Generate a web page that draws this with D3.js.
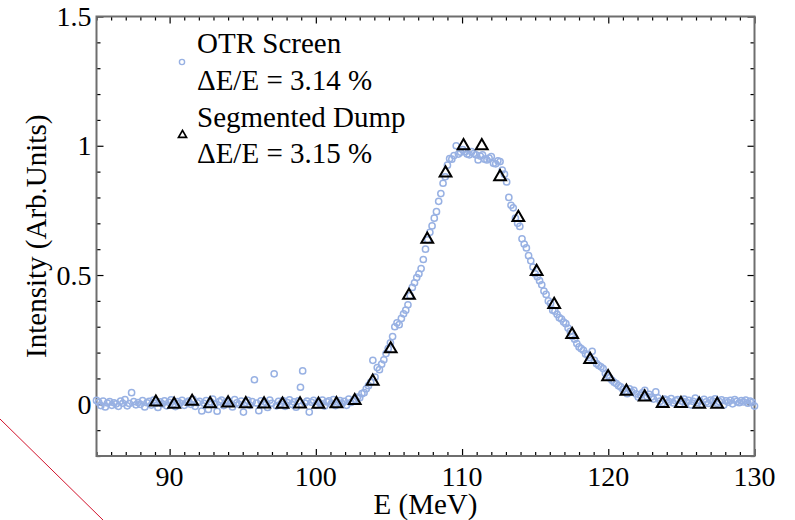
<!DOCTYPE html>
<html>
<head>
<meta charset="utf-8">
<script src="https://cdn.jsdelivr.net/npm/d3@7"></script>
<style>
  html, body { margin: 0; padding: 0; background: #fff; }
  svg { display: block; }
  svg text { font-family: "Liberation Serif", "Times New Roman", serif; fill: #000; }
</style>
</head>
<body>
<svg id="chart" width="795" height="520" font-family="Liberation Serif, serif"></svg>
<script>
// ---------- data ----------
const otrEnergy = [
  85, 85.15, 85.3, 85.45, 85.6, 85.75, 85.9, 86.05, 86.2, 86.35, 86.5, 86.65, 86.8, 86.95, 87.1, 87.25, 87.4, 87.55, 87.7, 87.85,
  88, 88.15, 88.3, 88.45, 88.6, 88.75, 88.9, 89.05, 89.2, 89.35, 89.5, 89.65, 89.8, 89.95, 90.1, 90.25, 90.4, 90.55, 90.7, 90.85,
  91, 91.15, 91.3, 91.45, 91.6, 91.75, 91.9, 92.05, 92.2, 92.35, 92.5, 92.65, 92.8, 92.95, 93.1, 93.25, 93.4, 93.55, 93.7, 93.85,
  94, 94.15, 94.3, 94.45, 94.6, 94.75, 94.9, 95.05, 95.2, 95.35, 95.5, 95.65, 95.8, 95.95, 96.1, 96.25, 96.4, 96.55, 96.7, 96.85,
  97, 97.15, 97.3, 97.45, 97.6, 97.75, 97.9, 98.05, 98.2, 98.35, 98.5, 98.65, 98.8, 98.95, 99.1, 99.25, 99.4, 99.55, 99.7, 99.85,
  100, 100.15, 100.3, 100.45, 100.6, 100.75, 100.9, 101.05, 101.2, 101.35, 101.5, 101.65, 101.8, 101.95, 102.1, 102.25, 102.4, 102.55, 102.7, 102.85,
  103, 103.15, 103.3, 103.45, 103.6, 103.75, 103.9, 104.05, 104.2, 104.35, 104.5, 104.65, 104.8, 104.95, 105.1, 105.25, 105.4, 105.55, 105.7, 105.85,
  106, 106.15, 106.3, 106.45, 106.6, 106.75, 106.9, 107.05, 107.2, 107.35, 107.5, 107.65, 107.8, 107.95, 108.1, 108.25, 108.4, 108.55, 108.7, 108.85,
  109, 109.15, 109.3, 109.45, 109.6, 109.75, 109.9, 110.05, 110.2, 110.35, 110.5, 110.65, 110.8, 110.95, 111.1, 111.25, 111.4, 111.55, 111.7, 111.85,
  112, 112.15, 112.3, 112.45, 112.6, 112.75, 112.9, 113.05, 113.2, 113.35, 113.5, 113.65, 113.8, 113.95, 114.1, 114.25, 114.4, 114.55, 114.7, 114.85,
  115, 115.15, 115.3, 115.45, 115.6, 115.75, 115.9, 116.05, 116.2, 116.35, 116.5, 116.65, 116.8, 116.95, 117.1, 117.25, 117.4, 117.55, 117.7, 117.85,
  118, 118.15, 118.3, 118.45, 118.6, 118.75, 118.9, 119.05, 119.2, 119.35, 119.5, 119.65, 119.8, 119.95, 120.1, 120.25, 120.4, 120.55, 120.7, 120.85,
  121, 121.15, 121.3, 121.45, 121.6, 121.75, 121.9, 122.05, 122.2, 122.35, 122.5, 122.65, 122.8, 122.95, 123.1, 123.25, 123.4, 123.55, 123.7, 123.85,
  124, 124.15, 124.3, 124.45, 124.6, 124.75, 124.9, 125.05, 125.2, 125.35, 125.5, 125.65, 125.8, 125.95, 126.1, 126.25, 126.4, 126.55, 126.7, 126.85,
  127, 127.15, 127.3, 127.45, 127.6, 127.75, 127.9, 128.05, 128.2, 128.35, 128.5, 128.65, 128.8, 128.95, 129.1, 129.25, 129.4, 129.55, 129.7, 129.85,
  130
];
const otrIntensity = [
  0.015, 0.008, -0.005, 0.012, -0.010, 0.005, 0.010, -0.004, 0.006, 0.002,
  -0.008, 0.012, 0.004, 0.018, -0.006, 0.003, 0.045, 0.010, -0.002, 0.007,
  0.000, 0.014, -0.010, 0.006, 0.011, -0.003, 0.016, 0.004, -0.012, 0.009,
  0.002, 0.013, -0.006, 0.008, 0.017, 0.001, -0.009, 0.010, 0.005, 0.015,
  -0.004, 0.007, 0.012, 0.000, 0.019, -0.008, 0.006, 0.011, -0.026, 0.004,
  0.014, -0.020, 0.009, 0.020, 0.002, -0.027, 0.010, 0.016, -0.005, 0.008,
  0.013, 0.003, -0.010, 0.018, 0.006, 0.000, 0.012, -0.030, 0.007, 0.015,
  -0.004, 0.010, 0.095, 0.005, -0.025, 0.013, 0.001, 0.008, -0.012, 0.016,
  0.004, 0.118, -0.006, 0.011, 0.002, 0.014, -0.008, 0.007, 0.017, 0.000,
  0.009, -0.011, 0.013, 0.066, 0.129, 0.005, 0.012, -0.030, 0.008, 0.015,
  -0.003, 0.010, 0.004, 0.016, -0.007, 0.009, 0.013, 0.002, 0.018, -0.005,
  0.008, 0.014, 0.003, 0.011, -0.004, 0.020, 0.007, 0.012, 0.018, 0.028,
  0.025, 0.041, 0.045, 0.060, 0.072, 0.085, 0.170, 0.105, 0.142, 0.134,
  0.155, 0.172, 0.196, 0.215, 0.238, 0.262, 0.300, 0.315, 0.308, 0.332,
  0.350, 0.364, 0.385, 0.420, 0.452, 0.470, 0.490, 0.505, 0.525, 0.560,
  0.600, 0.636, 0.665, 0.690, 0.720, 0.745, 0.785, 0.815, 0.855, 0.880,
  0.925, 0.950, 0.948, 0.962, 1.000, 0.968, 0.975, 0.985, 0.977, 0.968,
  0.965, 0.977, 0.970, 0.965, 0.945, 0.960, 0.965, 0.948, 0.945, 0.952,
  0.958, 0.932, 0.930, 0.942, 0.939, 0.906, 0.890, 0.860, 0.800, 0.770,
  0.760, 0.720, 0.700, 0.688, 0.640, 0.620, 0.605, 0.575, 0.555, 0.531,
  0.505, 0.493, 0.478, 0.462, 0.438, 0.425, 0.400, 0.390, 0.364, 0.360,
  0.348, 0.335, 0.330, 0.318, 0.312, 0.295, 0.282, 0.262, 0.252, 0.235,
  0.222, 0.215, 0.209, 0.195, 0.190, 0.180, 0.205, 0.170, 0.157, 0.150,
  0.145, 0.138, 0.120, 0.112, 0.102, 0.093, 0.085, 0.080, 0.072, 0.067,
  0.058, 0.050, 0.041, 0.060, 0.048, 0.054, 0.040, 0.028, 0.035, 0.045,
  0.054, 0.030, 0.038, 0.028, 0.020, 0.048, 0.025, 0.012, 0.004, 0.020,
  0.016, 0.010, 0.022, 0.005, 0.014, 0.018, 0.002, 0.012, 0.020, 0.008,
  0.015, -0.002, 0.011, 0.024, 0.006, 0.013, 0.000, 0.019, 0.009, 0.003,
  0.016, 0.012, 0.021, 0.004, 0.010, 0.017, -0.003, 0.013, 0.008, 0.015,
  0.002, 0.018, 0.011, 0.006, 0.014, 0.009, 0.016, 0.004, 0.012, 0.008,
  -0.007
];
const dumpEnergy = [
  89.06, 90.31, 91.54, 92.77, 94.0, 95.21, 96.46, 97.72, 98.92, 100.18, 101.41,
  102.66, 103.89, 105.12, 106.37, 107.62, 108.87, 110.1, 111.35, 112.6, 113.85,
  115.1, 116.3, 117.53, 118.76, 119.99, 121.24, 122.49, 123.72, 124.97, 126.22, 127.45
];
const dumpIntensity = [
  0.008, 0.0, 0.011, 0.002, 0.005, 0.002, 0.001, 0.0, 0.001, 0.0, 0.002,
  0.014, 0.089, 0.214, 0.421, 0.638, 0.894, 1.0, 1.0, 0.88, 0.722,
  0.513, 0.386, 0.27, 0.173, 0.106, 0.05, 0.028, 0.003, 0.003, 0.0, 0.0
];
const xTickLabels = [90, 100, 110, 120, 130];
const yTickLabels = [0, 0.5, 1, 1.5];
const legendLabels = ["OTR Screen", "\u0394E/E = 3.14 %", "Segmented Dump", "\u0394E/E = 3.15 %"];
const xTitle = "E (MeV)";
const yTitle = "Intensity (Arb.Units)";

// ---------- layout ----------
const FONT = "'Liberation Serif', 'Times New Roman', serif";
const svg = d3.select("#chart");
const L = 96.5, R = 754.5, T = 16.5, B = 456;
const x = d3.scaleLinear().domain([85, 130]).range([L, R]);
const y = d3.scaleLinear().domain([-0.2, 1.5]).range([B, T]);
const circleColor = "#98b1e3";
const frameColor = "#6e6e6e";

// decorative red diagonal line
svg.append("line")
  .attr("x1", 0).attr("y1", 419).attr("x2", 103).attr("y2", 520)
  .attr("stroke", "#d2132c").attr("stroke-width", 1);

// ---------- ticks ----------
const xMinor = x.ticks(45).filter(v => !xTickLabels.includes(v));
const yMinor = y.ticks(17).filter(v => !yTickLabels.some(t => Math.abs(t - v) < 1e-9));

function styleAxis(g) {
  g.select(".domain").remove();
  g.selectAll(".tick line").attr("stroke", "#000").attr("stroke-width", 1.2);
  g.selectAll(".tick text").remove();
}

svg.append("g").attr("transform", `translate(0,${B})`)
  .call(d3.axisBottom(x).tickValues(xMinor).tickSize(-4).tickFormat("")).call(styleAxis);
svg.append("g").attr("transform", `translate(0,${B})`)
  .call(d3.axisBottom(x).tickValues(xTickLabels).tickSize(-7).tickFormat("")).call(styleAxis);
svg.append("g").attr("transform", `translate(0,${T})`)
  .call(d3.axisTop(x).tickValues(xMinor).tickSize(-4).tickFormat("")).call(styleAxis);
svg.append("g").attr("transform", `translate(0,${T})`)
  .call(d3.axisTop(x).tickValues(xTickLabels).tickSize(-7).tickFormat("")).call(styleAxis);
svg.append("g").attr("transform", `translate(${L},0)`)
  .call(d3.axisLeft(y).tickValues(yMinor).tickSize(-4).tickFormat("")).call(styleAxis);
svg.append("g").attr("transform", `translate(${L},0)`)
  .call(d3.axisLeft(y).tickValues(yTickLabels).tickSize(-7).tickFormat("")).call(styleAxis);
svg.append("g").attr("transform", `translate(${R},0)`)
  .call(d3.axisRight(y).tickValues(yMinor).tickSize(-4).tickFormat("")).call(styleAxis);
svg.append("g").attr("transform", `translate(${R},0)`)
  .call(d3.axisRight(y).tickValues(yTickLabels).tickSize(-7).tickFormat("")).call(styleAxis);

svg.append("rect")
  .attr("x", L).attr("y", T).attr("width", R - L).attr("height", B - T)
  .attr("fill", "none").attr("stroke", frameColor).attr("stroke-width", 2);

// tick labels
svg.append("g").selectAll("text").data(xTickLabels).join("text")
  .attr("x", d => x(d)).attr("y", 486)
  .attr("text-anchor", "middle").attr("font-size", 28).attr("font-family", FONT)
  .text(d => d);
svg.append("g").selectAll("text").data(yTickLabels).join("text")
  .attr("x", L - 5).attr("y", d => y(d) + 9.5)
  .attr("text-anchor", "end").attr("font-size", 28).attr("font-family", FONT)
  .text(d => d);

// axis titles
svg.append("text").attr("x", (L + R) / 2).attr("y", 514)
  .attr("text-anchor", "middle").attr("font-size", 29).attr("font-family", FONT).text(xTitle);
svg.append("text")
  .attr("transform", `translate(46,${(T + B) / 2}) rotate(-90)`)
  .attr("text-anchor", "middle").attr("font-size", 29).attr("font-family", FONT).text(yTitle);

// ---------- data marks ----------
const plot = svg.append("g");
plot.selectAll("circle.otr").data(otrEnergy.map((e, i) => [e, otrIntensity[i]]))
  .join("circle").attr("class", "otr")
  .attr("cx", d => x(d[0])).attr("cy", d => y(d[1])).attr("r", 3.1)
  .attr("fill", "none").attr("stroke", circleColor).attr("stroke-width", 1.5);

const tri = d3.symbol().type(d3.symbolTriangle).size(60);
plot.selectAll("path.dump").data(dumpEnergy.map((e, i) => [e, dumpIntensity[i]]))
  .join("path").attr("class", "dump")
  .attr("d", tri)
  .attr("transform", d => `translate(${x(d[0])},${y(d[1])})`)
  .attr("fill", "none").attr("stroke", "#000").attr("stroke-width", 2);

// ---------- legend ----------
const lg = svg.append("g");
lg.append("circle").attr("cx", 182).attr("cy", 62).attr("r", 2.6)
  .attr("fill", "none").attr("stroke", circleColor).attr("stroke-width", 1.4);
lg.append("path").attr("d", d3.symbol().type(d3.symbolTriangle).size(28))
  .attr("transform", "translate(182.5,135)")
  .attr("fill", "none").attr("stroke", "#000").attr("stroke-width", 1.7);
const legendY = [53, 90, 127, 163];
lg.selectAll("text").data(legendLabels).join("text")
  .attr("x", 197).attr("y", (d, i) => legendY[i])
  .attr("font-size", 29).attr("font-family", FONT).text(d => d);
</script>
</body>
</html>
